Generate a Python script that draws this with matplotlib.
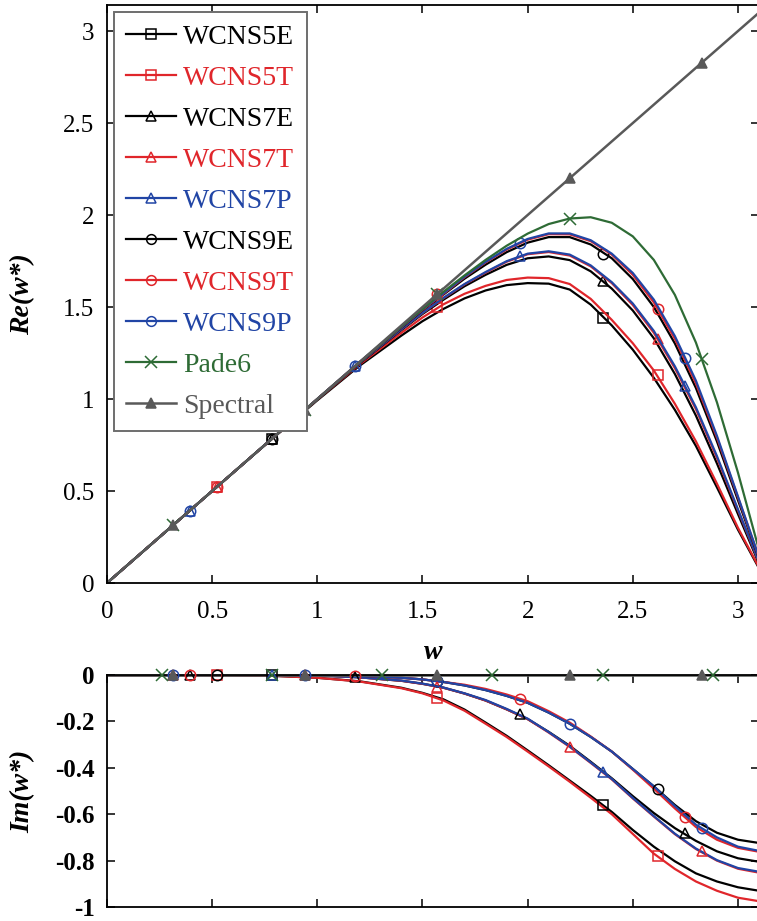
import numpy as np
import matplotlib
matplotlib.use("Agg")
import matplotlib.pyplot as plt
from matplotlib.lines import Line2D

plt.rcParams["font.family"] = ["Liberation Serif", "DejaVu Serif"]
plt.rcParams["axes.unicode_minus"] = False

# common wavenumber grid for the curves
w = [0, 0.2, 0.4, 0.6, 0.8, 1.0, 1.2, 1.4, 1.5, 1.6, 1.7, 1.8, 1.9, 2.0, 2.1, 2.2, 2.3,
     2.4, 2.5, 2.6, 2.7, 2.8, 2.9, 3.0, 3.1, np.pi]

# real part of modified wavenumber
re_5e = [0, 0.2, 0.4, 0.6, 0.798, 0.993, 1.18, 1.345, 1.423, 1.49, 1.547, 1.59, 1.619, 1.63,
         1.627, 1.595, 1.513, 1.40, 1.268, 1.115, 0.941, 0.745, 0.52, 0.29, 0.08, 0]
re_5t = [0, 0.2, 0.4, 0.6, 0.799, 0.997, 1.187, 1.36, 1.443, 1.515, 1.572, 1.615, 1.647, 1.66,
         1.657, 1.625, 1.544, 1.43, 1.303, 1.155, 0.974, 0.77, 0.54, 0.30, 0.085, 0]
re_7e = [0, 0.2, 0.4, 0.6, 0.8, 0.998, 1.192, 1.375, 1.462, 1.54, 1.613, 1.675, 1.729, 1.765,
         1.775, 1.755, 1.694, 1.60, 1.481, 1.33, 1.136, 0.91, 0.65, 0.375, 0.105, 0]
re_7t = [0, 0.2, 0.4, 0.6, 0.8, 0.999, 1.195, 1.38, 1.467, 1.548, 1.623, 1.687, 1.746, 1.787,
         1.799, 1.78, 1.721, 1.63, 1.511, 1.36, 1.168, 0.945, 0.68, 0.395, 0.113, 0]
re_7p = [0, 0.2, 0.4, 0.6, 0.8, 0.999, 1.195, 1.38, 1.468, 1.55, 1.625, 1.69, 1.749, 1.79,
         1.803, 1.785, 1.726, 1.635, 1.519, 1.37, 1.178, 0.955, 0.69, 0.40, 0.115, 0]
re_9e = [0, 0.2, 0.4, 0.6, 0.8, 1.0, 1.198, 1.388, 1.482, 1.568, 1.654, 1.73, 1.798, 1.85,
         1.88, 1.88, 1.84, 1.765, 1.652, 1.50, 1.302, 1.06, 0.77, 0.45, 0.133, 0]
re_9t = [0, 0.2, 0.4, 0.6, 0.8, 1.0, 1.199, 1.39, 1.485, 1.572, 1.662, 1.742, 1.812, 1.866,
         1.896, 1.895, 1.858, 1.785, 1.675, 1.525, 1.327, 1.085, 0.79, 0.465, 0.138, 0]
re_9p = [0, 0.2, 0.4, 0.6, 0.8, 1.0, 1.2, 1.392, 1.488, 1.575, 1.665, 1.745, 1.816, 1.87,
         1.90, 1.90, 1.863, 1.79, 1.685, 1.54, 1.342, 1.10, 0.80, 0.47, 0.14, 0]
re_pade = [0, 0.2, 0.4, 0.6, 0.8, 0.999, 1.198, 1.394, 1.489, 1.583, 1.672, 1.756, 1.833, 1.899,
           1.951, 1.981, 1.988, 1.958, 1.884, 1.756, 1.566, 1.307, 0.982, 0.60, 0.18, 0]
spec_w = [0, np.pi]
spec_re = [0, np.pi]

# imaginary part of modified wavenumber
im_5e = [0, 0, 0, -0.001, -0.004, -0.012, -0.027, -0.055, -0.077, -0.105, -0.149, -0.205, -0.262,
         -0.325, -0.389, -0.455, -0.521, -0.59, -0.668, -0.74, -0.803, -0.855, -0.89, -0.915, -0.93, -0.932]
im_5t = [0, 0, 0, -0.001, -0.004, -0.012, -0.028, -0.057, -0.079, -0.11, -0.154, -0.21, -0.267,
         -0.33, -0.394, -0.46, -0.529, -0.60, -0.685, -0.77, -0.836, -0.89, -0.93, -0.96, -0.975, -0.978]
im_7e = [0, 0, 0, 0, 0, -0.002, -0.01, -0.025, -0.038, -0.055, -0.08, -0.11, -0.148, -0.19,
         -0.245, -0.305, -0.374, -0.445, -0.522, -0.595, -0.66, -0.715, -0.76, -0.79, -0.805, -0.807]
im_7t = [0, 0, 0, 0, 0, -0.002, -0.01, -0.025, -0.038, -0.055, -0.08, -0.11, -0.148, -0.19,
         -0.248, -0.31, -0.379, -0.45, -0.532, -0.61, -0.686, -0.75, -0.80, -0.835, -0.852, -0.855]
im_7p = [0, 0, 0, 0, 0, -0.002, -0.01, -0.024, -0.037, -0.054, -0.079, -0.108, -0.146, -0.188,
         -0.246, -0.308, -0.377, -0.448, -0.53, -0.608, -0.684, -0.748, -0.798, -0.832, -0.848, -0.85]
im_9e = [0, 0, 0, 0, 0, 0, -0.003, -0.012, -0.019, -0.03, -0.045, -0.065, -0.09, -0.12,
         -0.162, -0.21, -0.267, -0.33, -0.405, -0.48, -0.56, -0.63, -0.68, -0.71, -0.724, -0.726]
im_9t = [0, 0, 0, 0, 0, 0, -0.003, -0.012, -0.019, -0.03, -0.042, -0.06, -0.084, -0.113,
         -0.156, -0.205, -0.265, -0.33, -0.408, -0.49, -0.575, -0.655, -0.71, -0.745, -0.762, -0.764]
im_9p = [0, 0, 0, 0, 0, 0, -0.003, -0.012, -0.019, -0.03, -0.045, -0.065, -0.09, -0.12,
         -0.162, -0.21, -0.267, -0.33, -0.405, -0.48, -0.565, -0.645, -0.70, -0.74, -0.758, -0.76]
im_zero = [0] * len(w)

# marker locations (w) and values
mw_4 = [np.pi / 4, 3 * np.pi / 4]
mw_6 = [np.pi / 6, np.pi / 2, 5 * np.pi / 6]
mw_8 = [np.pi / 8, 3 * np.pi / 8, 5 * np.pi / 8, 7 * np.pi / 8]
mw_10 = [np.pi / 10, 3 * np.pi / 10, np.pi / 2, 7 * np.pi / 10, 9 * np.pi / 10]
mw_12 = [np.pi / 12, 3 * np.pi / 12, 5 * np.pi / 12, 7 * np.pi / 12, 9 * np.pi / 12, 11 * np.pi / 12]

top_mk = {
    "WCNS5E": (mw_4, [0.785, 1.443]),
    "WCNS5T": (mw_6, [0.524, 1.50, 1.13]),
    "WCNS7E": (mw_4, [0.785, 1.64]),
    "WCNS7T": (mw_6, [0.524, 1.55, 1.325]),
    "WCNS7P": (mw_8, [0.393, 1.178, 1.775, 1.07]),
    "WCNS9E": (mw_4, [0.785, 1.79]),
    "WCNS9T": (mw_6, [0.524, 1.57, 1.49]),
    "WCNS9P": (mw_8, [0.393, 1.178, 1.847, 1.222]),
    "Pade6": (mw_10, [0.314, 0.942, 1.57, 1.98, 1.22]),
    "Spectral": (mw_10, [0.314, 0.942, 1.571, 2.199, 2.827]),
}
bot_mk = {
    "WCNS5E": (mw_4, [0, -0.56]),
    "WCNS5T": (mw_6, [0, -0.10, -0.78]),
    "WCNS7E": (mw_8, [0, -0.01, -0.17, -0.68]),
    "WCNS7T": (mw_10, [0, 0, -0.05, -0.31, -0.76]),
    "WCNS7P": (mw_4, [0, -0.42]),
    "WCNS9E": (mw_6, [0, -0.028, -0.49]),
    "WCNS9T": (mw_8, [0, -0.003, -0.105, -0.61]),
    "WCNS9P": (mw_10, [0, 0, -0.028, -0.21, -0.66]),
    "Pade6": (mw_12, [0, 0, 0, 0, 0, 0]),
    "Spectral": (mw_10, [0, 0, 0, 0, 0]),
}

BLACK = "#000000"
RED = "#e0262b"
BLUE = "#2145a5"
GREEN = "#2e6b35"
GRAY = "#595959"

series = [
    ("WCNS5E", w, re_5e, im_5e, BLACK, "s"),
    ("WCNS5T", w, re_5t, im_5t, RED, "s"),
    ("WCNS7E", w, re_7e, im_7e, BLACK, "^"),
    ("WCNS7T", w, re_7t, im_7t, RED, "^"),
    ("WCNS7P", w, re_7p, im_7p, BLUE, "^"),
    ("WCNS9E", w, re_9e, im_9e, BLACK, "o"),
    ("WCNS9T", w, re_9t, im_9t, RED, "o"),
    ("WCNS9P", w, re_9p, im_9p, BLUE, "o"),
    ("Pade6", w, re_pade, im_zero, GREEN, "x"),
    ("Spectral", spec_w, spec_re, [0, 0], GRAY, "^"),
]

fig = plt.figure(figsize=(7.57, 9.21), dpi=100)
ax1 = fig.add_axes([107 / 757, 1 - 583 / 921, 652 / 757, 578 / 921])
ax2 = fig.add_axes([107 / 757, 1 - 907 / 921, 652 / 757, 232 / 921])

handles = []
for name, xs, re, im, color, mk in series:
    filled = name == "Spectral"
    lw = 1.8 if filled else 1.6
    mstyle = dict(ls="none", marker=mk, ms=7.5 if mk != "x" else 8,
                  mfc=color if filled else "none", mec=color, mew=1.1)
    ax1.plot(xs, re, color=color, lw=lw)
    ax2.plot(xs, im, color=color, lw=lw)
    ax1.plot(*top_mk[name], clip_on=False, **mstyle)
    ax2.plot(*bot_mk[name], clip_on=False, zorder=3, **mstyle)
    handles.append(Line2D([], [], color=color, lw=lw, marker=mk, ms=7 if mk != "x" else 8,
                          mfc=color if filled else "none", mec=color, mew=1.1, label=name))

for ax in (ax1, ax2):
    ax.set_xlim(0, 3.1)
    ax.set_xticks(np.arange(0, 3.01, 0.5))
    ax.tick_params(direction="in", top=True, right=True, length=6, width=1.1,
                   labelsize=18, pad=9)
    for sp in ax.spines.values():
        sp.set_linewidth(1.3)

ax1.set_ylim(0, np.pi)
ax1.set_yticks(np.arange(0, 3.01, 0.5))
ax1.set_xticklabels(["0", "0.5", "1", "1.5", "2", "2.5", "3"])
ax1.set_yticklabels(["0", "0.5", "1", "1.5", "2", "2.5", "3"])
ax1.tick_params(axis="x", pad=13)
ax1.set_xlabel("w", fontsize=20, fontstyle="italic", fontweight="bold", labelpad=12)
ax1.set_ylabel("Re(w*)", fontsize=20, fontstyle="italic", fontweight="bold", labelpad=20)

ax2.set_ylim(-1, 0)
ax2.set_yticks([0, -0.2, -0.4, -0.6, -0.8, -1])
ax2.set_yticklabels(["0", "-0.2", "-0.4", "-0.6", "-0.8", "-1"], fontweight="bold")
ax2.tick_params(labelbottom=False)
ax2.set_ylabel("Im(w*)", fontsize=20, fontstyle="italic", fontweight="bold", labelpad=14)

leg = ax1.legend(handles=handles, loc="upper left", fontsize=20, frameon=True,
                 fancybox=False, framealpha=1, edgecolor="#6e6e6e",
                 handlelength=1.8, handletextpad=0.25, labelspacing=0.56,
                 borderpad=0.45, borderaxespad=0.25)
leg.get_frame().set_linewidth(1.4)
leg.set_zorder(10)
for text, h in zip(leg.get_texts(), handles):
    text.set_color(h.get_color())

fig.savefig("out.png", dpi=100)
